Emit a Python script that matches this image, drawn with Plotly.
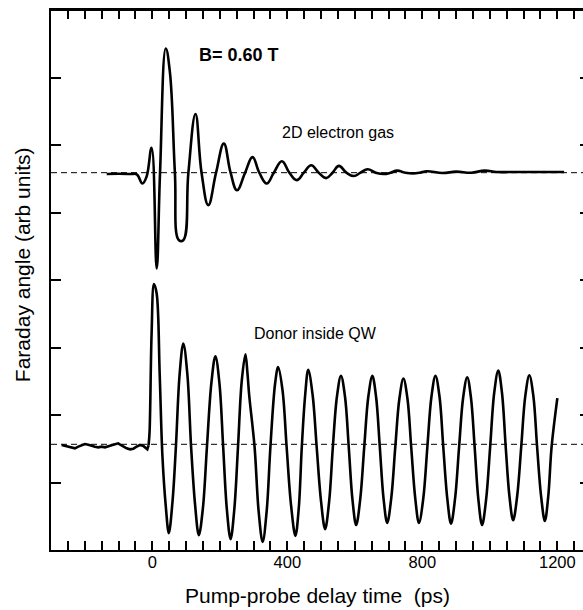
import plotly.graph_objects as go

# ---- data (time in ps, signal in arbitrary units) ----
gas_t = [-135, -100, -65, -46, -29, -17, -2, 13, 23, 40, 52, 67, 79, 92, 107, 128, 146, 166,
         189, 212, 232, 251, 275, 297, 317, 339, 360, 384, 406, 428, 449, 471, 493, 515, 534,
         553, 575, 597, 617, 638, 662, 687, 706, 725, 750, 772, 793, 813, 860, 900, 945, 985,
         1020, 1060, 1120, 1170, 1220]
gas_v = [5.57, 5.575, 5.57, 5.565, 5.43, 5.53, 5.96, 4.17, 5.59, 7.43, 7.09, 5.59, 4.59, 4.59,
         5.59, 6.46, 5.59, 5.11, 5.59, 6.02, 5.59, 5.33, 5.59, 5.82, 5.59, 5.43, 5.59, 5.76,
         5.59, 5.48, 5.59, 5.70, 5.59, 5.51, 5.59, 5.69, 5.59, 5.54, 5.59, 5.64, 5.59, 5.57,
         5.59, 5.62, 5.59, 5.58, 5.59, 5.61, 5.585, 5.605, 5.59, 5.62, 5.60, 5.60, 5.60, 5.60,
         5.60]

# donor trace: noisy part before the pump pulse
donor_pre_t = [-268.5, -258.7, -248.8, -238.9, -229, -219.2, -209.3, -199.4, -189.5, -179.6,
               -169.8, -159.9, -150, -140.1, -130.3, -120.4, -110.5, -100.6, -93.7, -85.8,
               -75.9, -66, -56.1, -46.3, -36.4, -26.5, -18.7, -14.7, -11]
donor_pre_v = [1.556, 1.546, 1.531, 1.521, 1.506, 1.531, 1.556, 1.570, 1.560, 1.541, 1.531,
               1.521, 1.531, 1.521, 1.531, 1.551, 1.565, 1.580, 1.556, 1.531, 1.506, 1.491,
               1.501, 1.531, 1.556, 1.541, 1.506, 1.491, 1.55]
# donor trace: oscillating part
donor_t = [-11, -8, -2, 5, 13, 22, 30, 40, 49, 60, 70, 81, 92, 104, 115, 127, 138, 150, 162,
           175, 187, 199, 210, 221, 232, 243, 254, 265, 276, 282, 287, 303, 315, 327, 339, 350,
           364, 373, 386, 398, 411, 424, 434, 443, 453, 462, 475, 487, 500, 512, 524, 535, 547,
           559, 571, 582, 593, 604, 616, 628, 640, 652, 663, 674, 685, 696, 708, 720, 732, 744,
           756, 767, 779, 790, 803, 815, 827, 839, 851, 862, 874, 885, 897, 909, 921, 933, 944,
           955, 966, 977, 989, 1001, 1013, 1025, 1036, 1047, 1058, 1069, 1081, 1093, 1105, 1117,
           1129, 1140, 1152, 1163, 1173, 1183, 1200]
donor_v = [1.55, 1.75, 3.2, 3.94, 3.80, 2.6, 1.4, 0.65, 0.25, 0.72, 1.53, 2.60, 3.06, 2.60,
           1.53, 0.66, 0.22, 0.62, 1.53, 2.47, 2.87, 2.47, 1.53, 0.60, 0.16, 0.60, 1.53, 2.50,
           2.90, 2.62, 2.30, 1.53, 0.58, 0.12, 0.58, 1.53, 2.47, 2.71, 2.36, 1.53, 0.67, 0.21,
           0.62, 1.53, 2.30, 2.67, 2.30, 1.53, 0.72, 0.31, 0.72, 1.53, 2.27, 2.58, 2.27, 1.53,
           0.75, 0.37, 0.75, 1.53, 2.27, 2.58, 2.27, 1.53, 0.77, 0.40, 0.77, 1.53, 2.24, 2.54,
           2.24, 1.53, 0.77, 0.40, 0.77, 1.53, 2.27, 2.58, 2.27, 1.53, 0.76, 0.39, 0.76, 1.53,
           2.26, 2.56, 2.26, 1.53, 0.75, 0.37, 0.75, 1.53, 2.33, 2.66, 2.33, 1.53, 0.80, 0.44,
           0.80, 1.53, 2.28, 2.59, 2.28, 1.53, 0.79, 0.43, 0.79, 1.53, 2.25]

baselines = [5.59, 1.566]          # dashed zero lines
x_tickvals = [-200, 0, 200, 400, 600, 800, 1000, 1200]
x_ticktext = ["", "0", "", "400", "", "800", "", "1200"]
y_tickvals = [1, 2, 3, 4, 5, 6, 7]

labels = [
    dict(text="<b>B= 0.60 T</b>", x=256, y=7.33, size=18),
    dict(text="2D electron gas", x=550, y=6.18, size=16),
    dict(text="Donor inside QW", x=484, y=3.21, size=16),
]

FONT = "Liberation Sans, Arial, Helvetica, sans-serif"
line = dict(color="black", width=2.6)

fig = go.Figure()
fig.add_trace(go.Scatter(x=gas_t, y=gas_v, mode="lines", yaxis="y2",
                         line=dict(shape="spline", smoothing=1.2, **line)))
fig.add_trace(go.Scatter(x=donor_pre_t, y=donor_pre_v, mode="lines", line=dict(shape="linear", **line)))
fig.add_trace(go.Scatter(x=donor_t, y=donor_v, mode="lines",
                         line=dict(shape="spline", smoothing=1.0, **line)))

for b in baselines:
    fig.add_shape(type="line", xref="paper", x0=0, x1=1, yref="y", y0=b, y1=b,
                  line=dict(color="black", width=1, dash="6px,4px"), layer="below")

# top frame line
fig.add_shape(type="line", xref="paper", yref="paper", x0=0, x1=1, y0=1, y1=1,
              line=dict(color="black", width=2))

for lab in labels:
    fig.add_annotation(x=lab["x"], y=lab["y"], xref="x", yref="y", text=lab["text"],
                       showarrow=False, font=dict(family=FONT, size=lab["size"], color="black"),
                       xanchor="center", yanchor="middle")

fig.add_annotation(text="Pump-probe delay time\u00a0 (ps)", xref="paper", yref="paper",
                   x=0.501, y=-0.085, showarrow=False, xanchor="center", yanchor="middle",
                   font=dict(family=FONT, size=21, color="black"))
fig.add_annotation(text="Faraday angle (arb units)", xref="paper", yref="paper",
                   x=-0.053, y=0.529, showarrow=False, xanchor="center", yanchor="middle",
                   textangle=-90, font=dict(family=FONT, size=21, color="black"))

fig.update_layout(
    width=583, height=610,
    margin=dict(l=51, r=0, t=10, b=60),
    paper_bgcolor="white", plot_bgcolor="white",
    showlegend=False,
    font=dict(family=FONT, color="black"),
    xaxis=dict(range=[-300, 1276], tickvals=x_tickvals, ticktext=x_ticktext,
               ticks="inside", ticklen=9, tickwidth=1.5, tickcolor="black",
               minor=dict(dtick=50, tick0=0, ticks="inside", ticklen=5, tickwidth=1.5,
                          tickcolor="black"),
               showline=True, linewidth=2, linecolor="black", mirror="allticks",
               ticklabelstandoff=-4,
               showgrid=False, zeroline=False, tickfont=dict(size=16.5, family=FONT)),
    yaxis=dict(range=[0, 8], tickvals=y_tickvals, showticklabels=False,
               ticks="inside", ticklen=10, tickwidth=1.5, tickcolor="black",
               showline=True, linewidth=2, linecolor="black", mirror=False,
               showgrid=False, zeroline=False),
    yaxis2=dict(range=[0, 8], tickvals=y_tickvals, showticklabels=False, overlaying="y",
                side="right", anchor="x", ticks="inside", ticklen=3, tickwidth=1.5,
                tickcolor="black", showline=False, showgrid=False, zeroline=False),
)

fig.write_html("out.html", config={"displayModeBar": False},
               post_script="document.body.style.margin='0';document.body.style.overflow='hidden';")
